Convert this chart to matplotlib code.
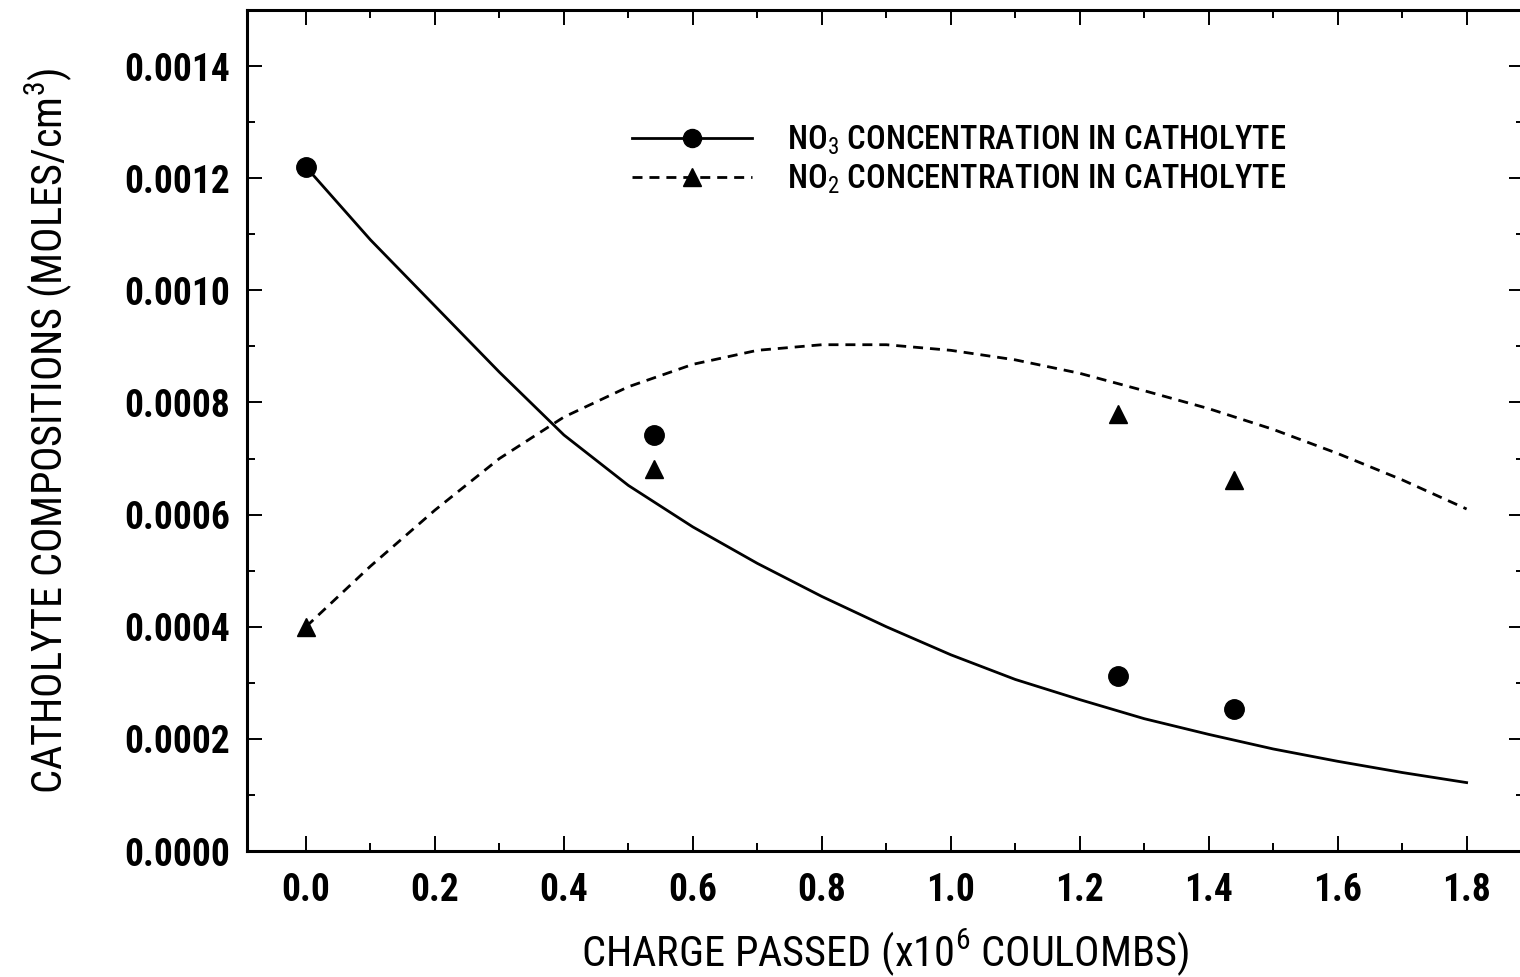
import matplotlib
matplotlib.use("Agg")
import matplotlib.pyplot as plt
from matplotlib import font_manager as fm
from matplotlib.lines import Line2D
from matplotlib.ticker import MultipleLocator, FormatStrFormatter

# ─── Data ─────────────────────────────────────────────────────────────────────
# measured points
charge_pts = [0.0, 0.54, 1.26, 1.44]
no3_pts    = [0.00122, 0.000742, 0.000313, 0.000254]
no2_pts    = [0.00040, 0.000682, 0.000780, 0.000662]

# fitted curves
curve_x   = [0.0, 0.1, 0.2, 0.3, 0.4, 0.5, 0.6, 0.7, 0.8, 0.9,
             1.0, 1.1, 1.2, 1.3, 1.4, 1.5, 1.6, 1.7, 1.8]
no3_curve = [0.001220, 0.001090, 0.000972, 0.000854, 0.000742, 0.000652,
             0.000578, 0.000513, 0.000454, 0.000400, 0.000350, 0.000306,
             0.000270, 0.000236, 0.000208, 0.000182, 0.000160, 0.000140,
             0.000122]
no2_curve = [0.000400, 0.000508, 0.000608, 0.000700, 0.000774, 0.000828,
             0.000868, 0.000893, 0.000903, 0.000903, 0.000893, 0.000876,
             0.000852, 0.000821, 0.000789, 0.000752, 0.000709, 0.000662,
             0.000610]

LABEL_NO3 = "NO$_3$ CONCENTRATION IN CATHOLYTE"
LABEL_NO2 = "NO$_2$ CONCENTRATION IN CATHOLYTE"
XLABEL = "CHARGE PASSED (x10$^6$ COULOMBS)"
YLABEL = "CATHOLYTE COMPOSITIONS (MOLES/cm$^3$)"

# ─── Font: a narrow sans if one is around, else Liberation Sans ───────────────
names = {f.name for f in fm.fontManager.ttflist}
narrow = next((n for n in ["Liberation Sans Narrow", "Roboto Condensed",
                           "Open Sans Condensed", "Arial Narrow"]
               if n in names), None)
if narrow:
    FONT, SCALE = narrow, 1.0
else:
    FONT, SCALE = "Liberation Sans", 0.85

plt.rcParams["font.family"] = [FONT, "DejaVu Sans"]
plt.rcParams["mathtext.fontset"] = "custom"
plt.rcParams["mathtext.rm"] = FONT
plt.rcParams["mathtext.default"] = "rm"

TICK_FS   = 27.0 * SCALE
LABEL_FS  = 30.5 * SCALE
LEGEND_FS = 23.5 * SCALE

DASH = (0, (3.6, 2.5))
LW = 2.0
MS = 14

# ─── Figure ───────────────────────────────────────────────────────────────────
fig = plt.figure(figsize=(15.2, 9.77), dpi=100)
ax = fig.add_axes([247 / 1520, 126 / 977, 1277 / 1520, 841 / 977])

ax.plot(curve_x, no3_curve, color="black", lw=LW)
ax.plot(curve_x, no2_curve, color="black", lw=LW, linestyle=DASH)
ax.plot(charge_pts, no3_pts, "o", color="black", ms=MS, lw=0)
ax.plot(charge_pts, no2_pts, "^", color="black", ms=MS - 0.5, lw=0)

ax.set_xlim(-0.0915, 1.889)
ax.set_ylim(0, 0.0015)

ax.xaxis.set_major_locator(MultipleLocator(0.2))
ax.xaxis.set_minor_locator(MultipleLocator(0.1))
ax.yaxis.set_major_locator(MultipleLocator(0.0002))
ax.yaxis.set_minor_locator(MultipleLocator(0.0001))
ax.xaxis.set_major_formatter(FormatStrFormatter("%.1f"))
ax.yaxis.set_major_formatter(FormatStrFormatter("%.4f"))

ax.tick_params(which="both", direction="in", top=True, right=True, width=1.4)
ax.tick_params(which="major", length=11)
ax.tick_params(which="minor", length=6)
ax.tick_params(axis="x", pad=15)
ax.tick_params(axis="y", pad=12)
for lbl in ax.get_xticklabels() + ax.get_yticklabels():
    lbl.set_fontsize(TICK_FS)
    lbl.set_fontweight("bold")

for sp in ax.spines.values():
    sp.set_linewidth(2.2)

ax.set_xlabel(XLABEL, fontsize=LABEL_FS, labelpad=13)
ax.set_ylabel(YLABEL, fontsize=LABEL_FS, labelpad=36)

# ── Legend (no frame) ────────────────────────────────────────────────────────
h_no3 = Line2D([], [], color="black", lw=LW, marker="o", ms=MS - 1)
h_no2 = Line2D([], [], color="black", lw=LW, linestyle=DASH, marker="^", ms=MS - 1)
leg = ax.legend([h_no3, h_no2], [LABEL_NO3, LABEL_NO2], loc="center left",
                bbox_to_anchor=(632 / 1520, 1 - 160 / 977),
                bbox_transform=fig.transFigure, frameon=False,
                prop={"size": LEGEND_FS, "weight": 500},
                handlelength=86.4 / LEGEND_FS, handletextpad=25.2 / LEGEND_FS,
                labelspacing=27.4 / LEGEND_FS - 0.987,
                borderpad=0, borderaxespad=0)

plt.savefig("out.png", dpi=100)
